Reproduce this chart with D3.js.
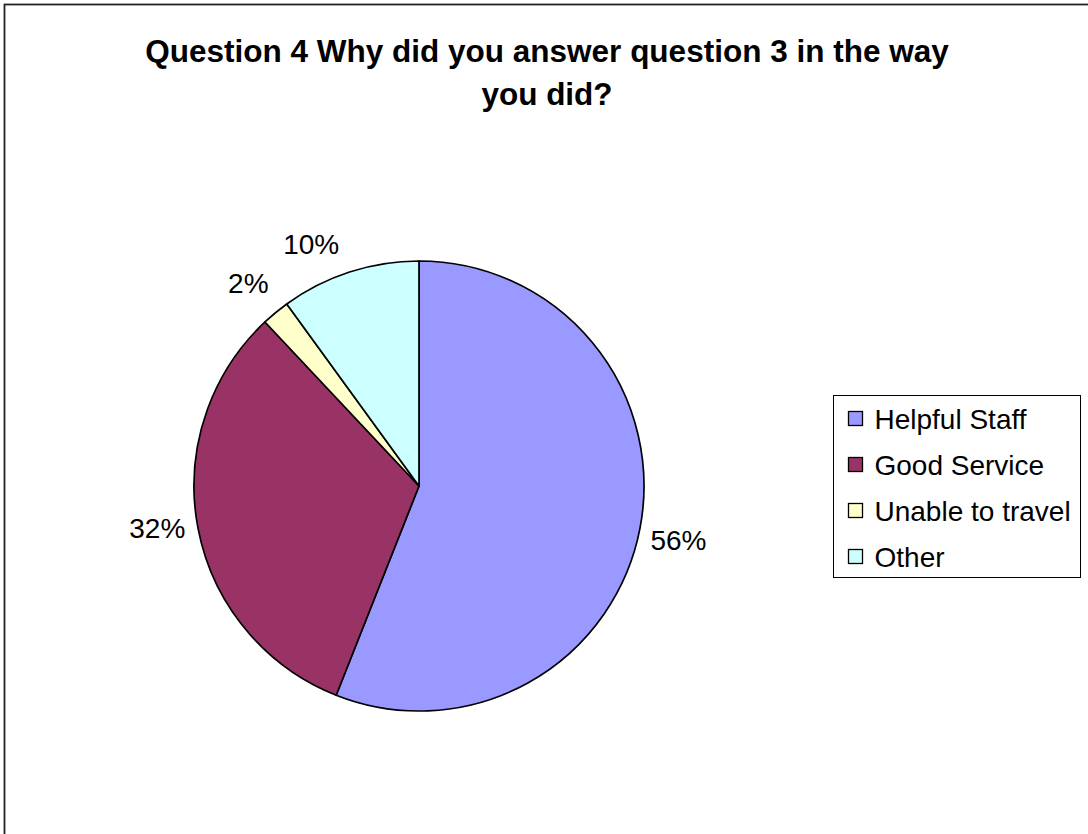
<!DOCTYPE html>
<html>
<head>
<meta charset="utf-8">
<script src="https://cdn.jsdelivr.net/npm/d3@7"></script>
<style>
  html, body { margin: 0; padding: 0; background: #fff; }
  svg { display: block; font-family: "Liberation Sans", Arial, sans-serif; }
</style>
</head>
<body>
<svg id="chart" width="1088" height="834"></svg>
<script>
// Survey responses, in percent
const categories = ["Helpful Staff", "Good Service", "Unable to travel", "Other"];
const values = [56, 32, 2, 10];
const colors = ["#9999FF", "#993366", "#FFFFCC", "#CCFFFF"];
const titleLines = ["Question 4 Why did you answer question 3 in the way", "you did?"];

// small angular shifts (degrees) that keep the crowded top labels apart
const labelAngleNudge = [1, 1.8, -0.5, -6];

const svg = d3.select("#chart");

// chart area frame (runs off the right and bottom edges)
svg.append("rect")
  .attr("x", 4.5).attr("y", 4.5)
  .attr("width", 1200).attr("height", 1000)
  .attr("fill", "#fff")
  .attr("stroke", "#222")
  .attr("stroke-width", 1.8);

// title
svg.append("g").selectAll("text")
  .data(titleLines)
  .join("text")
  .attr("x", 547)
  .attr("y", (d, i) => 62 + i * 43)
  .attr("text-anchor", "middle")
  .attr("font-size", 31.5)
  .attr("font-weight", "bold")
  .attr("fill", "#000")
  .text(d => d);

// pie
const cx = 419, cy = 486, r = 225;
const color = d3.scaleOrdinal().domain(categories).range(colors);
const pie = d3.pie().sort(null).value(d => d.value);
const arcs = pie(categories.map((c, i) => ({ name: c, value: values[i], idx: i })));
const arc = d3.arc().innerRadius(0).outerRadius(r);

const g = svg.append("g").attr("transform", `translate(${cx},${cy})`);
g.selectAll("path")
  .data(arcs)
  .join("path")
  .attr("d", arc)
  .attr("fill", d => color(d.data.name))
  .attr("stroke", "#000")
  .attr("stroke-width", 1.7)
  .attr("stroke-linejoin", "round");

// percentage labels centred on a ring outside the pie
const fmt = v => `${v}%`;
const labelFont = 28;
const labelRadius = r + 40;
g.selectAll("text.pct")
  .data(arcs)
  .join("text")
  .attr("class", "pct")
  .attr("font-size", labelFont)
  .attr("fill", "#000")
  .attr("text-anchor", "middle")
  .each(function (d) {
    const a = (d.startAngle + d.endAngle) / 2 + labelAngleNudge[d.data.idx] * Math.PI / 180;
    d3.select(this)
      .attr("x", labelRadius * Math.sin(a))
      .attr("y", -labelRadius * Math.cos(a) + labelFont * 0.36);
  })
  .text(d => fmt(d.data.value));

// legend
const legend = svg.append("g").attr("transform", "translate(833.5,395.5)");
legend.append("rect")
  .attr("width", 247).attr("height", 182)
  .attr("fill", "#fff")
  .attr("stroke", "#000")
  .attr("stroke-width", 1);

const rowY = d3.scalePoint().domain(categories).range([23, 161]);
const items = legend.selectAll("g.item")
  .data(categories)
  .join("g")
  .attr("class", "item")
  .attr("transform", d => `translate(0,${rowY(d)})`);
items.append("rect")
  .attr("x", 15).attr("y", -7)
  .attr("width", 14).attr("height", 14)
  .attr("fill", d => color(d))
  .attr("stroke", "#000")
  .attr("stroke-width", 1.3);
items.append("text")
  .attr("x", 41).attr("y", 10)
  .attr("font-size", 28)
  .attr("fill", "#000")
  .text(d => d);
</script>
</body>
</html>
